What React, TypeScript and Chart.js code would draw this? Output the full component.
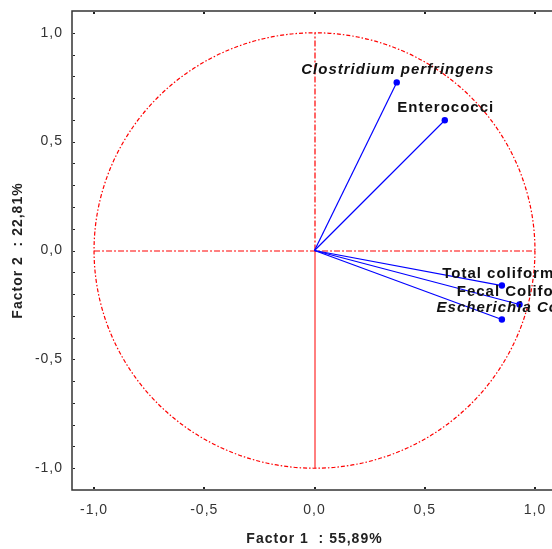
import React, { useEffect, useRef } from "react";
import { Chart, registerables } from "chart.js";

Chart.register(...registerables);

// ---- data ----
const variables = [
  "Clostridium perfringens",
  "Enterococci",
  "Total coliforms",
  "Fecal Coliforms",
  "Escherichia Coli",
];
const italicLabel = [true, false, false, false, true];
const factor1 = [0.373, 0.591, 0.85, 0.93, 0.85];
const factor2 = [0.772, 0.598, -0.161, -0.248, -0.317];
const xTicks = [-1, -0.5, 0, 0.5, 1];
const yTicks = [-1, -0.5, 0, 0.5, 1];
const yMinorTicks = [-1, -0.9, -0.8, -0.7, -0.6, -0.5, -0.4, -0.3, -0.2, -0.1, 0, 0.1, 0.2, 0.3, 0.4, 0.5, 0.6, 0.7, 0.8, 0.9, 1];
const xTitle = "Factor 1  : 55,89%";
const yTitle = "Factor 2  : 22,81%";

const fmt = (v: number) => v.toFixed(1).replace(".", ",");
const FONT = '"Liberation Sans", Arial, sans-serif';

const decorPlugin = {
  id: "decor",
  beforeDraw(chart: any) {
    chart.ctx.letterSpacing = "1px";
  },
  beforeDatasetsDraw(chart: any) {
    const { ctx, chartArea, scales } = chart;
    const xs = scales.x;
    const ys = scales.y;
    const cx = xs.getPixelForValue(0);
    const cy = ys.getPixelForValue(0);
    const rx = xs.getPixelForValue(1) - cx;
    const ry = cy - ys.getPixelForValue(1);
    ctx.save();
    ctx.strokeStyle = "#ff0000";
    ctx.lineWidth = 1.2;
    // circle
    ctx.setLineDash([4, 2, 1.5, 2]);
    ctx.beginPath();
    ctx.ellipse(cx, cy, rx, ry, 0, 0, Math.PI * 2);
    ctx.stroke();
    // horizontal axis line
    ctx.setLineDash([6, 2, 2, 2]);
    ctx.beginPath();
    ctx.moveTo(xs.getPixelForValue(-1), cy + 0.5);
    ctx.lineTo(xs.getPixelForValue(1), cy + 0.5);
    ctx.stroke();
    // vertical upper
    ctx.beginPath();
    ctx.moveTo(cx + 0.5, cy);
    ctx.lineTo(cx + 0.5, ys.getPixelForValue(1));
    ctx.stroke();
    // vertical lower (solid)
    ctx.setLineDash([]);
    ctx.lineWidth = 1;
    ctx.beginPath();
    ctx.moveTo(cx + 0.5, cy);
    ctx.lineTo(cx + 0.5, ys.getPixelForValue(-1));
    ctx.stroke();
    ctx.restore();

    // frame
    ctx.save();
    ctx.strokeStyle = "#333333";
    ctx.lineWidth = 1.5;
    ctx.strokeRect(chartArea.left, chartArea.top, chartArea.right - chartArea.left, chartArea.bottom - chartArea.top);
    ctx.fillStyle = "#222222";
    xTicks.forEach((v) => {
      const px = Math.round(xs.getPixelForValue(v));
      ctx.fillRect(px - 1, chartArea.bottom - 3, 2, 2);
      ctx.fillRect(px - 1, chartArea.top + 1, 2, 2);
    });
    yMinorTicks.forEach((v) => {
      const py = Math.round(ys.getPixelForValue(v));
      ctx.fillRect(chartArea.left + 1, py, 2, 1);
    });
    ctx.restore();
  },
  afterDatasetsDraw(chart: any) {
    const { ctx, scales } = chart;
    ctx.save();
    ctx.fillStyle = "#111111";
    ctx.textAlign = "center";
    ctx.textBaseline = "alphabetic";
    ctx.letterSpacing = "1px";
    variables.forEach((name, i) => {
      const px = scales.x.getPixelForValue(factor1[i]);
      const py = scales.y.getPixelForValue(factor2[i]);
      ctx.font = `${italicLabel[i] ? "italic " : ""}bold 15px ${FONT}`;
      ctx.fillText(name, px + 1, py - 8);
    });
    ctx.restore();
  },
};

export default function App() {
  const ref = useRef<HTMLCanvasElement | null>(null);
  useEffect(() => {
    if (!ref.current) return;
    const datasets = variables.map((name, i) => ({
      label: name,
      data: [
        { x: 0, y: 0 },
        { x: factor1[i], y: factor2[i] },
      ],
      showLine: true,
      borderColor: "#0000ff",
      backgroundColor: "#0000ff",
      borderWidth: 1.2,
      pointRadius: [0, 3.2],
      pointBorderWidth: 0,
      pointBackgroundColor: "#0000ff",
    }));
    const chart = new Chart(ref.current, {
      type: "scatter",
      data: { datasets },
      plugins: [decorPlugin],
      options: {
        animation: false,
        responsive: false,
        devicePixelRatio: 1,
        layout: { padding: { top: 11, right: 5, left: 0, bottom: 0 } },
        plugins: { legend: { display: false }, tooltip: { enabled: false } },
        scales: {
          x: {
            type: "linear",
            min: -1.1,
            max: 1.1,
            afterBuildTicks: (s: any) => {
              s.ticks = xTicks.map((v) => ({ value: v }));
            },
            afterFit: (s: any) => {
              s.height = 59;
              s.paddingLeft = 0;
              s.paddingRight = 0;
            },
            grid: { display: false, drawTicks: false, tickLength: 0 },
            border: { display: false },
            ticks: {
              callback: (v: any) => fmt(Number(v)),
              font: { family: FONT, size: 14 },
              color: "#333333",
              padding: 12,
              maxRotation: 0,
            },
            title: {
              display: true,
              text: xTitle,
              font: { family: FONT, size: 14, weight: "bold" },
              color: "#222222",
              padding: { top: 0, bottom: 1 },
            },
          },
          y: {
            type: "linear",
            min: -1.1,
            max: 1.1,
            afterBuildTicks: (s: any) => {
              s.ticks = yTicks.map((v) => ({ value: v }));
            },
            afterFit: (s: any) => {
              s.width = 72;
              s.paddingTop = 0;
              s.paddingBottom = 0;
            },
            grid: { display: false, drawTicks: false, tickLength: 0 },
            border: { display: false },
            ticks: {
              callback: (v: any) => fmt(Number(v)),
              font: { family: FONT, size: 14 },
              color: "#333333",
              padding: 9,
            },
            title: {
              display: true,
              text: yTitle,
              font: { family: FONT, size: 14, weight: "bold" },
              color: "#222222",
              padding: { top: 10, bottom: 0 },
            },
          },
        },
      },
    });
    return () => chart.destroy();
  }, []);
  return (
    <div
      style={{
        position: "absolute",
        left: 0,
        top: 0,
        width: 552,
        height: 549,
        overflow: "hidden",
        background: "#ffffff",
      }}
    >
      <canvas ref={ref} width={562} height={549} style={{ display: "block" }} />
    </div>
  );
}
